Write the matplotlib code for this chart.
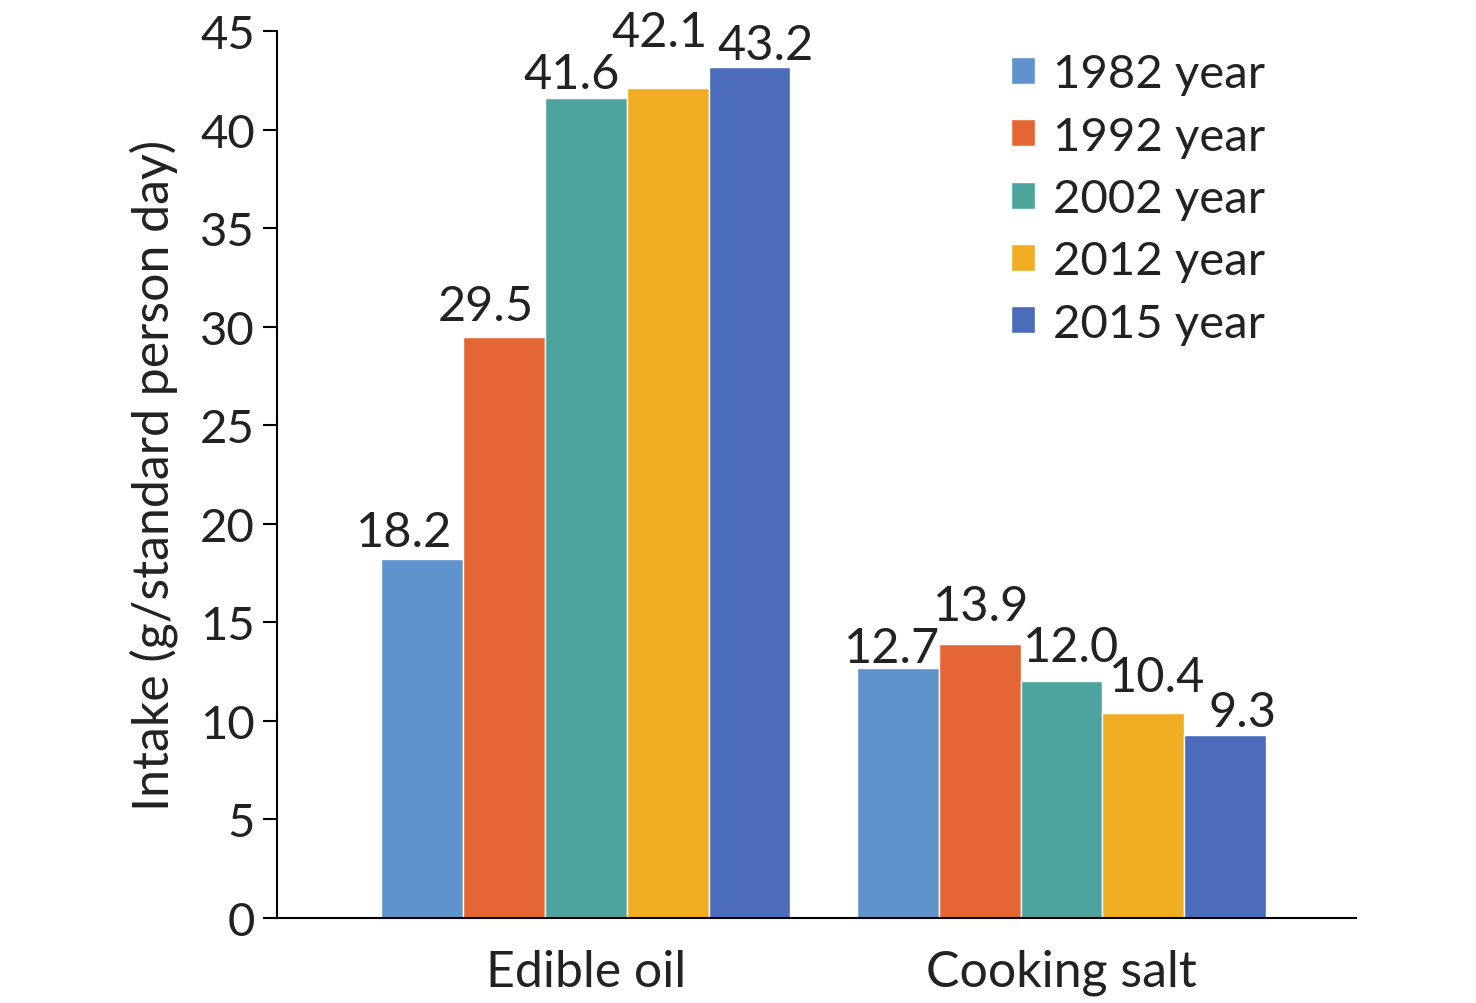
import numpy as np
import matplotlib.pyplot as plt

# categories and series
categories = ['Edible oil', 'Cooking salt']
years = ['1982 year', '1992 year', '2002 year', '2012 year', '2015 year']
values = [
    [18.2, 12.7],
    [29.5, 13.9],
    [41.6, 12.0],
    [42.1, 10.4],
    [43.2, 9.3],
]
labels = [
    ['18.2', '12.7'],
    ['29.5', '13.9'],
    ['41.6', '12.0'],
    ['42.1', '10.4'],
    ['43.2', '9.3'],
]
colors = ['#5E93CC', '#E36634', '#4DA39D', '#F0AD24', '#4A6CBB']

# hand-placed label nudges (pixels), as in the original figure
label_dx = [[-18, 1.5 - 7], [-18, 1.5], [-14, 10], [-8, 13.5], [16, 17.5]]
label_dy = [[13, 6], [17, 24], [10, 20], [42, 22], [8, 9]]

plt.rcParams['font.family'] = ['Lato', 'DejaVu Sans']
px = 72 / 100  # points per pixel

fig = plt.figure(figsize=(14.76, 10.04), dpi=100)
ax = fig.add_axes([0.1877, 0.0847, 0.7313, 0.8833])

x = np.arange(len(categories))
width = 0.172
for i, (yr, vals) in enumerate(zip(years, values)):
    pos = x + (i - 2) * width
    ax.bar(pos, vals, width, color=colors[i], label=yr,
           edgecolor='white', linewidth=1)
    for j, (p, v, t) in enumerate(zip(pos, vals, labels[i])):
        ax.annotate(t, (p, v), xytext=(label_dx[i][j] * px, label_dy[i][j] * px),
                    textcoords='offset points', ha='center', va='baseline',
                    fontsize=35, color='#222222')

ax.set_xlim(-0.649, 1.62)
ax.set_ylim(0, 45)
ax.set_yticks(range(0, 46, 5))
ax.set_xticks(x)
ax.set_xticklabels(categories)
ax.set_ylabel('Intake (g/standard person day)', fontsize=36, labelpad=16,
              color='#222222')
ax.tick_params(axis='y', labelsize=34, length=10, width=1.5, pad=6,
               labelcolor='#222222')
ax.tick_params(axis='x', labelsize=36, length=0, pad=22, labelcolor='#222222')
ax.spines['top'].set_visible(False)
ax.spines['right'].set_visible(False)
ax.spines['left'].set_linewidth(1.5)
ax.spines['bottom'].set_linewidth(1.5)

leg = ax.legend(loc='upper left', bbox_to_anchor=(0.68, 0.975), frameon=False,
                fontsize=34, handlelength=0.5, handleheight=0.5,
                handletextpad=0.38, labelspacing=0.43, borderpad=0,
                borderaxespad=0)
for t in leg.get_texts():
    t.set_color('#222222')

fig.savefig('out.png', dpi=100)
